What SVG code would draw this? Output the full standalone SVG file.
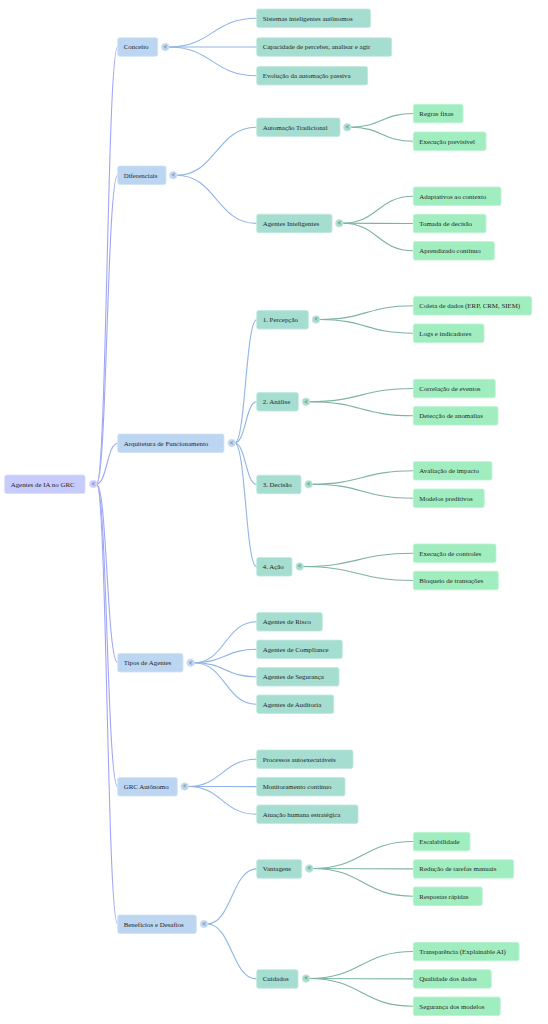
<svg xmlns="http://www.w3.org/2000/svg" width="548" height="1024" viewBox="0 0 548 1024">
<style>
text{font-family:"Liberation Serif","Times New Roman",serif;font-size:6.9px;fill:#1f1f1f}
.r{fill:#c7cbfb;stroke:#d9dcfc;stroke-width:0.8}
.l1{fill:#bcd6f2;stroke:#d0e2f6;stroke-width:0.8}
.l2{fill:#a5ddd0;stroke:#c0e8de;stroke-width:0.8}
.l3{fill:#a0eec0;stroke:#bdf3d3;stroke-width:0.8}
.c{font-size:5.6px;text-anchor:middle;fill:#444}
.e0{fill:none;stroke:#a0a6f7;stroke-width:1.1}
.e1{fill:none;stroke:#90b5e6;stroke-width:1.1}
.e2{fill:none;stroke:#7db3a1;stroke-width:1.1}
</style>
<g id="connectors">
<path class="e0" d="M96.5 484 C107 484 107 47 117.7 47"/>
<path class="e0" d="M96.5 484 C107 484 107 175.2 117.7 175.2"/>
<path class="e0" d="M96.5 484 C107 484 107 443.2 117.7 443.2"/>
<path class="e0" d="M96.5 484 C107 484 107 662.7 117.7 662.7"/>
<path class="e0" d="M96.5 484 C107 484 107 786.7 117.7 786.7"/>
<path class="e0" d="M96.5 484 C107 484 107 924.2 117.7 924.2"/>
<path class="e1" d="M168.3 47 C212.5 47 212.5 18.3 256.7 18.3"/>
<path class="e1" d="M168.3 47 C212.5 47 212.5 47 256.7 47"/>
<path class="e1" d="M168.3 47 C212.5 47 212.5 75.8 256.7 75.8"/>
<path class="e1" d="M176.3 175.2 C216.5 175.2 216.5 127.2 256.7 127.2"/>
<path class="e1" d="M176.3 175.2 C216.5 175.2 216.5 223.4 256.7 223.4"/>
<path class="e1" d="M234.7 443 C245.7 443 245.7 319.8 256.7 319.8"/>
<path class="e1" d="M234.7 443 C245.7 443 245.7 401.8 256.7 401.8"/>
<path class="e1" d="M234.7 443 C245.7 443 245.7 484.4 256.7 484.4"/>
<path class="e1" d="M234.7 443 C245.7 443 245.7 566.8 256.7 566.8"/>
<path class="e1" d="M193.7 662.7 C225.2 662.7 225.2 621.8 256.7 621.8"/>
<path class="e1" d="M193.7 662.7 C225.2 662.7 225.2 649.3 256.7 649.3"/>
<path class="e1" d="M193.7 662.7 C225.2 662.7 225.2 676.8 256.7 676.8"/>
<path class="e1" d="M193.7 662.7 C225.2 662.7 225.2 704.2 256.7 704.2"/>
<path class="e1" d="M187.7 786.5 C222.2 786.5 222.2 759.2 256.7 759.2"/>
<path class="e1" d="M187.7 786.5 C222.2 786.5 222.2 786.6 256.7 786.6"/>
<path class="e1" d="M187.7 786.5 C222.2 786.5 222.2 814.2 256.7 814.2"/>
<path class="e1" d="M207 924 C231.8 924 231.8 868.9 256.7 868.9"/>
<path class="e1" d="M207 924 C231.8 924 231.8 978.9 256.7 978.9"/>
<path class="e2" d="M350.3 127.2 C381.8 127.2 381.8 113.5 413.3 113.5"/>
<path class="e2" d="M350.3 127.2 C381.8 127.2 381.8 141.2 413.3 141.2"/>
<path class="e2" d="M342.3 223.2 C377.8 223.2 377.8 196.2 413.3 196.2"/>
<path class="e2" d="M342.3 223.2 C377.8 223.2 377.8 223.5 413.3 223.5"/>
<path class="e2" d="M342.3 223.2 C377.8 223.2 377.8 250.8 413.3 250.8"/>
<path class="e2" d="M319 319.5 C366.2 319.5 366.2 305.8 413.3 305.8"/>
<path class="e2" d="M319 319.5 C366.2 319.5 366.2 333.2 413.3 333.2"/>
<path class="e2" d="M309 401.7 C361.2 401.7 361.2 388.5 413.3 388.5"/>
<path class="e2" d="M309 401.7 C361.2 401.7 361.2 415.8 413.3 415.8"/>
<path class="e2" d="M311.7 484.2 C362.5 484.2 362.5 470.8 413.3 470.8"/>
<path class="e2" d="M311.7 484.2 C362.5 484.2 362.5 498.2 413.3 498.2"/>
<path class="e2" d="M302.7 566.5 C358 566.5 358 553.2 413.3 553.2"/>
<path class="e2" d="M302.7 566.5 C358 566.5 358 580.5 413.3 580.5"/>
<path class="e2" d="M312.3 868.5 C362.8 868.5 362.8 841.5 413.3 841.5"/>
<path class="e2" d="M312.3 868.5 C362.8 868.5 362.8 868.9 413.3 868.9"/>
<path class="e2" d="M312.3 868.5 C362.8 868.5 362.8 896.2 413.3 896.2"/>
<path class="e2" d="M309 978.5 C361.2 978.5 361.2 951.5 413.3 951.5"/>
<path class="e2" d="M309 978.5 C361.2 978.5 361.2 978.9 413.3 978.9"/>
<path class="e2" d="M309 978.5 C361.2 978.5 361.2 1006.2 413.3 1006.2"/>
</g>
<g id="root"><rect class="r" x="4.7" y="475" width="80.3" height="18.5" rx="2"/><text x="10.7" y="486.6">Agentes de IA no GRC</text><circle class="r" cx="93.3" cy="484" r="3.8"/><text class="c" x="93.3" y="485.9">&lt;</text></g>
<g id="conceito"><rect class="l1" x="117.7" y="37.8" width="40" height="18.5" rx="2"/><text x="123.7" y="49.4">Conceito</text><circle class="l1" cx="165.3" cy="47" r="3.8"/><text class="c" x="165.3" y="48.9">&lt;</text></g>
<g id="diferenciais"><rect class="l1" x="117.7" y="166" width="48.3" height="18.5" rx="2"/><text x="123.7" y="177.6">Diferenciais</text><circle class="l1" cx="173.3" cy="175.2" r="3.8"/><text class="c" x="173.3" y="177.1">&lt;</text></g>
<g id="arquitetura"><rect class="l1" x="117.7" y="434" width="106.3" height="18.5" rx="2"/><text x="123.7" y="445.6">Arquitetura de Funcionamento</text><circle class="l1" cx="231.7" cy="443" r="3.8"/><text class="c" x="231.7" y="444.9">&lt;</text></g>
<g id="tipos"><rect class="l1" x="117.7" y="653.5" width="65.3" height="18.5" rx="2"/><text x="123.7" y="665.1">Tipos de Agentes</text><circle class="l1" cx="190.7" cy="662.7" r="3.8"/><text class="c" x="190.7" y="664.6">&lt;</text></g>
<g id="grc"><rect class="l1" x="117.7" y="777.5" width="59.6" height="18.5" rx="2"/><text x="123.7" y="789.1">GRC Autônomo</text><circle class="l1" cx="184.7" cy="786.5" r="3.8"/><text class="c" x="184.7" y="788.4">&lt;</text></g>
<g id="beneficios"><rect class="l1" x="117.7" y="915" width="78.6" height="18.5" rx="2"/><text x="123.7" y="926.6">Benefícios e Desafios</text><circle class="l1" cx="204" cy="924" r="3.8"/><text class="c" x="204" y="925.9">&lt;</text></g>
<g id="sistemas"><rect class="l2" x="256.7" y="9" width="113.8" height="18.5" rx="2"/><text x="262.7" y="20.6">Sistemas inteligentes autônomos</text></g>
<g id="capacidade"><rect class="l2" x="256.7" y="37.8" width="135" height="18.5" rx="2"/><text x="262.7" y="49.4">Capacidade de perceber, analisar e agir</text></g>
<g id="evolucao"><rect class="l2" x="256.7" y="66.5" width="111" height="18.5" rx="2"/><text x="262.7" y="78.1">Evolução da automação passiva</text></g>
<g id="automacao"><rect class="l2" x="256.7" y="118" width="83.3" height="18.5" rx="2"/><text x="262.7" y="129.6">Automação Tradicional</text><circle class="l2" cx="347.3" cy="127.2" r="3.8"/><text class="c" x="347.3" y="129.1">&lt;</text></g>
<g id="agentes-int"><rect class="l2" x="256.7" y="214.2" width="75.3" height="18.5" rx="2"/><text x="262.7" y="225.8">Agentes Inteligentes</text><circle class="l2" cx="339.3" cy="223.2" r="3.8"/><text class="c" x="339.3" y="225.1">&lt;</text></g>
<g id="percepcao"><rect class="l2" x="256.7" y="310.6" width="51.6" height="18.5" rx="2"/><text x="262.7" y="322.2">1. Percepção</text><circle class="l2" cx="316" cy="319.5" r="3.8"/><text class="c" x="316" y="321.4">&lt;</text></g>
<g id="analise"><rect class="l2" x="256.7" y="392.6" width="41.6" height="18.5" rx="2"/><text x="262.7" y="404.2">2. Análise</text><circle class="l2" cx="306" cy="401.7" r="3.8"/><text class="c" x="306" y="403.6">&lt;</text></g>
<g id="decisao"><rect class="l2" x="256.7" y="475.2" width="44.3" height="18.5" rx="2"/><text x="262.7" y="486.8">3. Decisão</text><circle class="l2" cx="308.7" cy="484.2" r="3.8"/><text class="c" x="308.7" y="486.1">&lt;</text></g>
<g id="acao"><rect class="l2" x="256.7" y="557.6" width="35.3" height="18.5" rx="2"/><text x="262.7" y="569.2">4. Ação</text><circle class="l2" cx="299.7" cy="566.5" r="3.8"/><text class="c" x="299.7" y="568.4">&lt;</text></g>
<g id="risco"><rect class="l2" x="256.7" y="612.6" width="65.6" height="18.5" rx="2"/><text x="262.7" y="624.2">Agentes de Risco</text></g>
<g id="compliance"><rect class="l2" x="256.7" y="640.1" width="85.6" height="18.5" rx="2"/><text x="262.7" y="651.7">Agentes de Compliance</text></g>
<g id="seguranca"><rect class="l2" x="256.7" y="667.6" width="82.3" height="18.5" rx="2"/><text x="262.7" y="679.2">Agentes de Segurança</text></g>
<g id="auditoria"><rect class="l2" x="256.7" y="695" width="77" height="18.5" rx="2"/><text x="262.7" y="706.6">Agentes de Auditoria</text></g>
<g id="processos"><rect class="l2" x="256.7" y="750" width="96.3" height="18.5" rx="2"/><text x="262.7" y="761.6">Processos autoexecutáveis</text></g>
<g id="monitoramento"><rect class="l2" x="256.7" y="777.4" width="88.3" height="18.5" rx="2"/><text x="262.7" y="789">Monitoramento contínuo</text></g>
<g id="atuacao"><rect class="l2" x="256.7" y="805" width="101.3" height="18.5" rx="2"/><text x="262.7" y="816.6">Atuação humana estratégica</text></g>
<g id="vantagens"><rect class="l2" x="256.7" y="859.7" width="45" height="18.5" rx="2"/><text x="262.7" y="871.3">Vantagens</text><circle class="l2" cx="309.3" cy="868.5" r="3.8"/><text class="c" x="309.3" y="870.4">&lt;</text></g>
<g id="cuidados"><rect class="l2" x="256.7" y="969.7" width="41.3" height="18.5" rx="2"/><text x="262.7" y="981.3">Cuidados</text><circle class="l2" cx="306" cy="978.5" r="3.8"/><text class="c" x="306" y="980.4">&lt;</text></g>
<g id="regras"><rect class="l3" x="413.3" y="104.3" width="49.7" height="18.5" rx="2"/><text x="419.3" y="115.9">Regras fixas</text></g>
<g id="execucao-prev"><rect class="l3" x="413.3" y="132" width="72.7" height="18.5" rx="2"/><text x="419.3" y="143.6">Execução previsível</text></g>
<g id="adaptativos"><rect class="l3" x="413.3" y="187" width="87.7" height="18.5" rx="2"/><text x="419.3" y="198.6">Adaptativos ao contexto</text></g>
<g id="tomada"><rect class="l3" x="413.3" y="214.3" width="72.7" height="18.5" rx="2"/><text x="419.3" y="225.9">Tomada de decisão</text></g>
<g id="aprendizado"><rect class="l3" x="413.3" y="241.6" width="81" height="18.5" rx="2"/><text x="419.3" y="253.2">Aprendizado contínuo</text></g>
<g id="coleta"><rect class="l3" x="413.3" y="296.6" width="118.4" height="18.5" rx="2"/><text x="419.3" y="308.2">Coleta de dados (ERP, CRM, SIEM)</text></g>
<g id="logs"><rect class="l3" x="413.3" y="324" width="70.7" height="18.5" rx="2"/><text x="419.3" y="335.6">Logs e indicadores</text></g>
<g id="correlacao"><rect class="l3" x="413.3" y="379.3" width="82" height="18.5" rx="2"/><text x="419.3" y="390.9">Correlação de eventos</text></g>
<g id="deteccao"><rect class="l3" x="413.3" y="406.6" width="84.7" height="18.5" rx="2"/><text x="419.3" y="418.2">Detecção de anomalias</text></g>
<g id="avaliacao"><rect class="l3" x="413.3" y="461.6" width="78.7" height="18.5" rx="2"/><text x="419.3" y="473.2">Avaliação de impacto</text></g>
<g id="modelos"><rect class="l3" x="413.3" y="489" width="71" height="18.5" rx="2"/><text x="419.3" y="500.6">Modelos preditivos</text></g>
<g id="execucao-ctrl"><rect class="l3" x="413.3" y="544" width="82.7" height="18.5" rx="2"/><text x="419.3" y="555.6">Execução de controles</text></g>
<g id="bloqueio"><rect class="l3" x="413.3" y="571.3" width="85" height="18.5" rx="2"/><text x="419.3" y="582.9">Bloqueio de transações</text></g>
<g id="escalabilidade"><rect class="l3" x="413.3" y="832.3" width="56.7" height="18.5" rx="2"/><text x="419.3" y="843.9">Escalabilidade</text></g>
<g id="reducao"><rect class="l3" x="413.3" y="859.7" width="100.4" height="18.5" rx="2"/><text x="419.3" y="871.3">Redução de tarefas manuais</text></g>
<g id="respostas"><rect class="l3" x="413.3" y="887" width="69" height="18.5" rx="2"/><text x="419.3" y="898.6">Respostas rápidas</text></g>
<g id="transparencia"><rect class="l3" x="413.3" y="942.3" width="105.7" height="18.5" rx="2"/><text x="419.3" y="953.9">Transparência (Explainable AI)</text></g>
<g id="qualidade"><rect class="l3" x="413.3" y="969.7" width="78" height="18.5" rx="2"/><text x="419.3" y="981.3">Qualidade dos dados</text></g>
<g id="seguranca-modelos"><rect class="l3" x="413.3" y="997" width="87" height="18.5" rx="2"/><text x="419.3" y="1008.6">Segurança dos modelos</text></g>
</svg>
